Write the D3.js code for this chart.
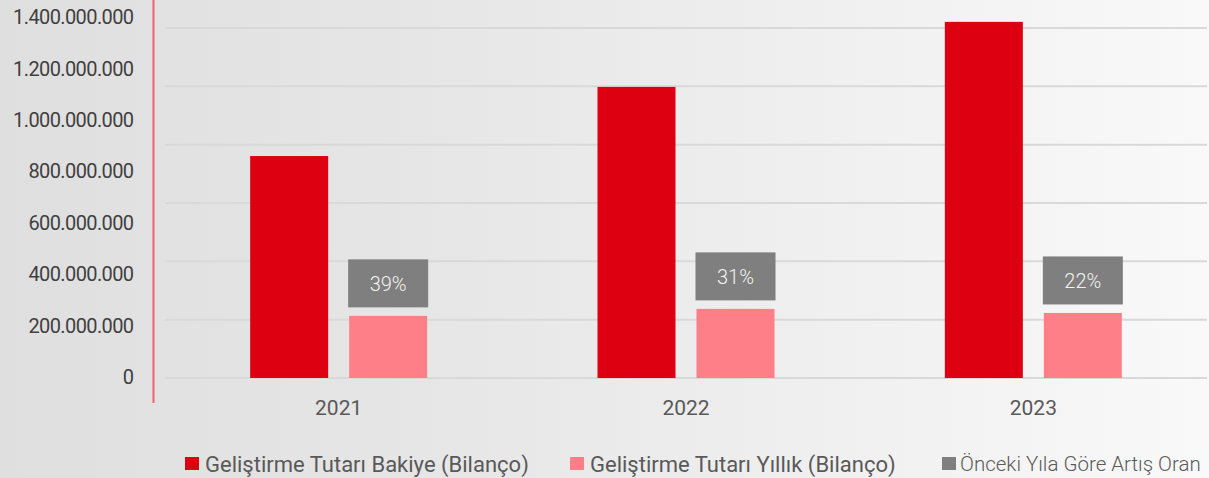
<!DOCTYPE html>
<html>
<head>
<meta charset="utf-8">
<script src="https://cdn.jsdelivr.net/npm/d3@7"></script>
<style>
  html, body { margin: 0; padding: 0; }
  body { width: 1209px; height: 478px; overflow: hidden; }
  text { font-family: Roboto, "Noto Sans", sans-serif; }
</style>
</head>
<body>
<div id="chart"></div>
<script>
// years on the x axis
const years = ["2021", "2022", "2023"];
// series values (TL)
const bakiye = [761000000, 998000000, 1221000000];
const yillik = [213000000, 237000000, 223000000];
// growth vs previous year (%)
const artis = [39, 31, 22];
// y tick values and their labels
const yTickValues = [0, 200000000, 400000000, 600000000, 800000000, 1000000000, 1200000000, 1400000000];
const yTickLabels = ["0", "200.000.000", "400.000.000", "600.000.000", "800.000.000", "1.000.000.000", "1.200.000.000", "1.400.000.000"];
const seriesNames = ["Geliştirme Tutarı Bakiye (Bilanço)", "Geliştirme Tutarı Yıllık (Bilanço)", "Önceki Yıla Göre Artış Oran"];
const colors = ["#dc0011", "#ff7f88", "#7f7f7f"];

const W = 1209, H = 478;
const plot = { left: 165, right: 1207, top: 28, bottom: 378 };

const svg = d3.select("#chart").append("svg")
  .attr("width", W)
  .attr("height", H);

// background gradient
const grad = svg.append("defs").append("linearGradient")
  .attr("id", "bg").attr("x1", "0%").attr("x2", "100%").attr("y1", "0%").attr("y2", "0%");
grad.append("stop").attr("offset", "0%").attr("stop-color", "#dfdfdf");
grad.append("stop").attr("offset", "35%").attr("stop-color", "#e6e6e6");
grad.append("stop").attr("offset", "70%").attr("stop-color", "#f0f0f0");
grad.append("stop").attr("offset", "100%").attr("stop-color", "#f9f9f9");
svg.append("rect").attr("width", W).attr("height", H).attr("fill", "url(#bg)");

// scales
const x0 = d3.scaleBand().domain(years).range([plot.left, plot.right]);
const groupW = 177;
const x1 = d3.scaleBand().domain([0, 1])
  .range([(x0.bandwidth() - groupW) / 2, (x0.bandwidth() + groupW) / 2])
  .paddingInner(0.212);
const y = d3.scaleLinear().domain([0, 1200000000]).range([plot.bottom, plot.top]);
// the printed labels sit on their own spacing
const yLab = d3.scaleLinear().domain([0, 1400000000]).range([377, 17.5]);

// gridlines
svg.append("g")
  .selectAll("line")
  .data(y.ticks(6))
  .enter()
  .append("line")
  .attr("x1", plot.left)
  .attr("x2", plot.right)
  .attr("y1", d => y(d))
  .attr("y2", d => y(d))
  .attr("stroke", "#d9d9d9")
  .attr("stroke-width", 2);

// y axis labels
const yAxis = d3.axisLeft(yLab)
  .tickValues(yTickValues)
  .tickFormat((d, i) => yTickLabels[i])
  .tickSize(0)
  .tickPadding(20);
const yG = svg.append("g")
  .attr("transform", "translate(153.5,0)")
  .call(yAxis);
yG.select(".domain").remove();
yG.selectAll(".tick text")
  .attr("font-family", "Roboto, sans-serif")
  .attr("font-size", 20)
  .attr("letter-spacing", "-0.6px")
  .attr("fill", "#404040");

// red axis line
svg.append("line")
  .attr("x1", 153.5).attr("x2", 153.5)
  .attr("y1", 0).attr("y2", 403)
  .attr("stroke", "#f0646e")
  .attr("stroke-width", 2);

// x axis labels
const xAxis = d3.axisBottom(x0).tickSize(0).tickPadding(22);
const xG = svg.append("g")
  .attr("transform", `translate(0,${plot.bottom})`)
  .call(xAxis);
xG.select(".domain").remove();
xG.selectAll(".tick text")
  .attr("font-family", "Roboto, sans-serif")
  .attr("font-size", 21)
  .attr("fill", "#595959");

// bars
const groups = svg.selectAll(".year-group")
  .data(years)
  .enter()
  .append("g")
  .attr("class", "year-group")
  .attr("transform", d => `translate(${x0(d)},0)`);

groups.append("rect")
  .attr("x", x1(0))
  .attr("width", x1.bandwidth())
  .attr("y", (d, i) => y(bakiye[i]))
  .attr("height", (d, i) => y(0) - y(bakiye[i]))
  .attr("fill", colors[0]);

groups.append("rect")
  .attr("x", x1(1))
  .attr("width", x1.bandwidth())
  .attr("y", (d, i) => y(yillik[i]))
  .attr("height", (d, i) => y(0) - y(yillik[i]))
  .attr("fill", colors[1]);

// growth boxes above the yearly bar
const boxH = 48, boxGap = 8.5;
groups.append("rect")
  .attr("x", x1(1) - 1)
  .attr("width", x1.bandwidth() + 2)
  .attr("y", (d, i) => y(yillik[i]) - boxGap - boxH)
  .attr("height", boxH)
  .attr("fill", colors[2]);

groups.append("text")
  .attr("x", x1(1) + x1.bandwidth() / 2)
  .attr("y", (d, i) => y(yillik[i]) - boxGap - boxH / 2 + 1)
  .attr("text-anchor", "middle")
  .attr("dominant-baseline", "central")
  .attr("font-size", 20)
  .attr("font-weight", 300)
  .attr("fill", "#f2f2f2")
  .text((d, i) => artis[i] + "%");

// legend
const legendX = [185, 570, 942];
const legend = svg.append("g")
  .selectAll(".legend-item")
  .data(seriesNames)
  .enter()
  .append("g")
  .attr("class", "legend-item")
  .attr("transform", (d, i) => `translate(${legendX[i]},457)`);

legend.append("rect")
  .attr("width", 14)
  .attr("height", 13)
  .attr("fill", (d, i) => colors[i]);

legend.append("text")
  .attr("x", (d, i) => i === 2 ? 18 : 20)
  .attr("y", 7)
  .attr("dominant-baseline", "central")
  .attr("font-size", (d, i) => i === 2 ? 20.5 : 22)
  .attr("font-weight", (d, i) => i === 2 ? 300 : 400)
  .attr("fill", "#595959")
  .text(d => d);
</script>
</body>
</html>
